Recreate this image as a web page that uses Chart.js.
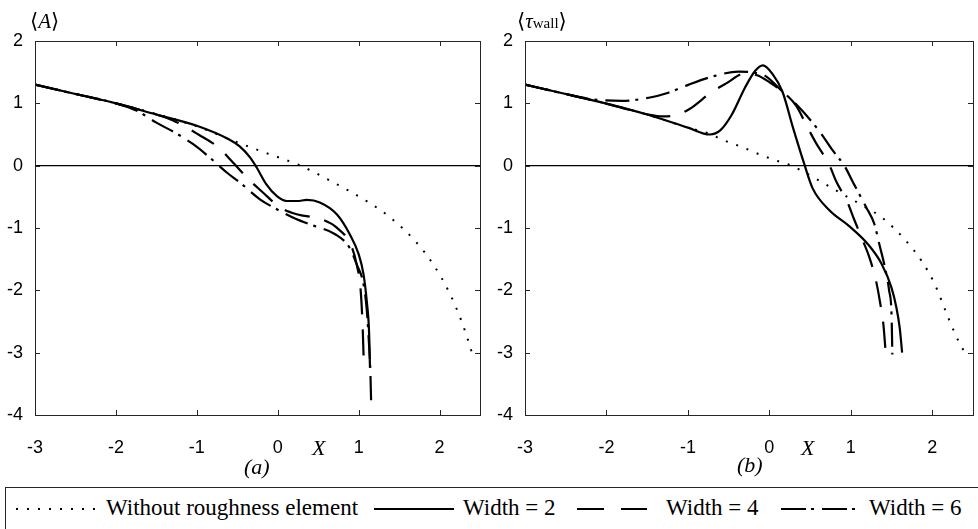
<!DOCTYPE html>
<html>
<head>
<meta charset="utf-8">
<script src="https://cdn.jsdelivr.net/npm/chart.js@4.4.1/dist/chart.umd.min.js"></script>
<style>
  body { margin: 0; background: #fff; width: 978px; height: 529px; overflow: hidden; position: relative; }
  .pane { position: absolute; top: 0; width: 489px; height: 480px; }
  .lab, #legend .t { font-family: "Liberation Serif", "Times New Roman", "DejaVu Serif", "Noto Serif", serif; }
  .lab { position: absolute; color: #000; white-space: nowrap; line-height: 1; }
  .it { font-style: italic; }
  #legend { position: absolute; left: 5px; top: 487px; width: 975px; height: 60px; border: 1px solid #262626; box-sizing: border-box; }
  #legend .t { position: absolute; top: 8px; font-size: 23px; white-space: nowrap; line-height: 1; }
  #legend svg { position: absolute; top: 0; left: 0; }
</style>
</head>
<body>
<div class="pane" style="left:0"><canvas id="chartA"></canvas></div>
<div class="pane" style="left:489px"><canvas id="chartB"></canvas></div>

<div class="lab" style="left:30px;top:11px;font-size:21px">⟨<span class="it">A</span>⟩</div>
<div class="lab" style="left:517px;top:11px;font-size:21px">⟨<span class="it">τ</span><span style="font-size:15px">wall</span>⟩</div>
<div class="lab it" style="left:312px;top:437px;font-size:22px">X</div>
<div class="lab it" style="left:801px;top:437px;font-size:22px">X</div>
<div class="lab it" style="left:244px;top:456px;font-size:22px">(a)</div>
<div class="lab it" style="left:737px;top:454px;font-size:22px">(b)</div>

<div id="legend">
  <svg width="975" height="40">
    <line x1="10" y1="21" x2="92" y2="21" stroke="#000" stroke-width="2" stroke-dasharray="2 9"/>
    <line x1="368" y1="21" x2="448" y2="21" stroke="#000" stroke-width="2.2"/>
    <line x1="571" y1="21" x2="641" y2="21" stroke="#000" stroke-width="2.2" stroke-dasharray="27 17"/>
    <line x1="775" y1="21" x2="852" y2="21" stroke="#000" stroke-width="2.2" stroke-dasharray="25 5 3 8"/>
  </svg>
  <span class="t" style="left:100px">Without roughness element</span>
  <span class="t" style="left:457px">Width = 2</span>
  <span class="t" style="left:660px">Width = 4</span>
  <span class="t" style="left:863px">Width = 6</span>
</div>

<script>
// tick values
const xTicks = [-3, -2, -1, 0, 1, 2];
const yTicks = [-4, -3, -2, -1, 0, 1, 2];

// zero reference line
const zeroX = [-3, 2.5];
const zeroY = [0, 0];

// (a) <A>
const aNoneX = [-3, -2.5, -2, -1.5, -1, -0.47, -0.2, 0.28, 0.69, 1.1, 1.39, 1.7, 1.92, 2.13, 2.27, 2.37, 2.4];
const aNoneY = [1.30, 1.15, 1.0, 0.83, 0.63, 0.36, 0.23, 0.0, -0.27, -0.57, -0.83, -1.21, -1.58, -2.06, -2.49, -2.87, -3.0];

const aW2X = [-3, -2.5, -2, -1.5, -1, -0.6, -0.47, -0.34, -0.26, -0.14, -0.01, 0.11, 0.24, 0.36, 0.52, 0.73, 0.89, 1.0, 1.06, 1.1, 1.13, 1.14];
const aW2Y = [1.30, 1.15, 1.0, 0.82, 0.64, 0.42, 0.31, 0.13, -0.03, -0.30, -0.49, -0.567, -0.567, -0.55, -0.59, -0.78, -1.10, -1.42, -1.74, -2.17, -2.7, -3.24];

const aW4X = [-3, -2.5, -2, -1.5, -1.3, -0.98, -0.73, -0.57, -0.36, -0.2, 0.03, 0.235, 0.54, 0.73, 0.91, 0.975, 1.025, 1.05, 1.066];
const aW4Y = [1.30, 1.15, 1.0, 0.82, 0.73, 0.50, 0.29, 0.075, -0.22, -0.41, -0.67, -0.78, -0.86, -0.995, -1.29, -1.58, -2.0, -2.6, -3.27];

const aW6X = [-3, -2.5, -2, -1.74, -1.5, -1.27, -1.04, -0.84, -0.63, -0.44, -0.22, -0.01, 0.235, 0.46, 0.71, 0.89, 0.975, 1.06, 1.1, 1.13, 1.145, 1.155];
const aW6Y = [1.30, 1.15, 1.0, 0.88, 0.69, 0.53, 0.34, 0.13, -0.11, -0.30, -0.54, -0.70, -0.86, -0.97, -1.10, -1.32, -1.58, -1.9, -2.3, -2.9, -3.3, -3.83];

// (b) <tau_wall>
const bNoneX = [-3, -2.5, -2, -1.5, -1, -0.73, -0.585, -0.34, -0.1, 0.11, 0.27, 0.40, 0.64, 0.89, 1.17, 1.38, 1.66, 1.87, 2.03, 2.2, 2.32, 2.4];
const bNoneY = [1.30, 1.15, 0.995, 0.82, 0.61, 0.51, 0.42, 0.30, 0.17, 0.07, 0.0, -0.085, -0.26, -0.45, -0.66, -0.83, -1.18, -1.53, -1.9, -2.45, -2.81, -3.0];

const bW2X = [-3, -2.5, -2, -1.5, -1, -0.73, -0.6, -0.46, -0.3, -0.176, -0.08, 0.04, 0.16, 0.29, 0.43, 0.53, 0.74, 0.98, 1.21, 1.38, 1.50, 1.56, 1.60, 1.63];
const bW2Y = [1.30, 1.15, 0.995, 0.82, 0.61, 0.50, 0.57, 0.82, 1.25, 1.52, 1.61, 1.47, 1.19, 0.61, 0.02, -0.36, -0.72, -0.97, -1.26, -1.58, -1.96, -2.28, -2.6, -3.0];

const bW4X = [-3, -2.5, -2, -1.7, -1.485, -1.3, -1.16, -0.98, -0.72, -0.53, -0.3, -0.15, 0.0, 0.16, 0.33, 0.47, 0.57, 0.74, 0.82, 0.96, 1.04, 1.15, 1.23, 1.31, 1.36, 1.40, 1.43];
const bW4Y = [1.30, 1.15, 0.995, 0.89, 0.82, 0.79, 0.81, 0.91, 1.17, 1.32, 1.48, 1.45, 1.34, 1.19, 0.96, 0.61, 0.37, 0.0, -0.25, -0.59, -0.86, -1.21, -1.48, -1.85, -2.2, -2.55, -3.03];

const bW6X = [-3, -2.5, -2.2, -1.81, -1.48, -1.24, -0.99, -0.67, -0.38, -0.18, -0.05, 0.16, 0.33, 0.61, 0.78, 0.92, 1.04, 1.19, 1.29, 1.35, 1.42, 1.47, 1.50, 1.51];
const bW6Y = [1.30, 1.15, 1.07, 1.04, 1.09, 1.17, 1.30, 1.44, 1.51, 1.49, 1.44, 1.19, 0.985, 0.56, 0.24, 0.0, -0.30, -0.67, -0.94, -1.26, -1.64, -2.0, -2.4, -3.03];

const pts = (xs, ys) => xs.map((x, i) => ({ x, y: ys[i] }));

const styles = {
  w2:   { borderDash: [], borderWidth: 2.2 },
  w4:   { borderDash: [26, 15], borderWidth: 2.2 },
  w6:   { borderDash: [24, 6, 3, 8], borderWidth: 2.2 },
  none: { borderDash: [2, 9], borderWidth: 2 },
  zero: { borderDash: [], borderWidth: 1.2, cubicInterpolationMode: 'default' }
};

function ds(name, data) {
  return Object.assign({
    data, showLine: true, pointRadius: 0, borderColor: '#000',
    fill: false, cubicInterpolationMode: 'monotone'
  }, styles[name]);
}

const frame = {
  id: 'frame',
  afterDatasetsDraw(chart) {
    const { ctx, chartArea: a, scales: { x, y } } = chart;
    ctx.save();
    ctx.strokeStyle = '#262626';
    ctx.lineWidth = 1;
    ctx.strokeRect(Math.round(a.left) + 0.5, Math.round(a.top) + 0.5, Math.round(a.width), Math.round(a.height));
    ctx.beginPath();
    x.ticks.forEach(t => {
      const p = Math.round(x.getPixelForValue(t.value)) + 0.5;
      ctx.moveTo(p, a.top); ctx.lineTo(p, a.top + 5);
      ctx.moveTo(p, a.bottom); ctx.lineTo(p, a.bottom - 5);
    });
    y.ticks.forEach(t => {
      const p = Math.round(y.getPixelForValue(t.value)) + 0.5;
      ctx.moveTo(a.left, p); ctx.lineTo(a.left + 5, p);
      ctx.moveTo(a.right, p); ctx.lineTo(a.right - 5, p);
    });
    ctx.stroke();
    ctx.restore();
  }
};

function makeChart(el, sets, yWidth, padRight) {
  return new Chart(el, {
    type: 'scatter',
    data: { datasets: sets },
    plugins: [frame],
    options: {
      responsive: true,
      maintainAspectRatio: false,
      animation: false,
      layout: { padding: { left: 0, right: padRight, top: 41, bottom: 0 } },
      plugins: { legend: { display: false }, tooltip: { enabled: false } },
      scales: {
        x: {
          type: 'linear', min: -3, max: 2.5,
          afterBuildTicks: s => { s.ticks = xTicks.map(v => ({ value: v })); },
          afterFit: s => { s.height = 65; },
          grid: { display: false, drawTicks: false },
          border: { display: false },
          ticks: { padding: 22, color: '#000', font: { family: 'Liberation Sans', size: 18 }, callback: v => String(v) }
        },
        y: {
          type: 'linear', min: -4, max: 2,
          afterBuildTicks: s => { s.ticks = yTicks.map(v => ({ value: v })); },
          afterFit: s => { s.width = yWidth; },
          grid: { display: false, drawTicks: false },
          border: { display: false },
          ticks: { padding: 12, color: '#000', font: { family: 'Liberation Sans', size: 18 }, callback: v => String(v) }
        }
      }
    }
  });
}

makeChart(document.getElementById('chartA'), [
  ds('w2', pts(aW2X, aW2Y)),
  ds('w4', pts(aW4X, aW4Y)),
  ds('w6', pts(aW6X, aW6Y)),
  ds('none', pts(aNoneX, aNoneY)),
  ds('zero', pts(zeroX, zeroY))
], 35, 9);

makeChart(document.getElementById('chartB'), [
  ds('w2', pts(bW2X, bW2Y)),
  ds('w4', pts(bW4X, bW4Y)),
  ds('w6', pts(bW6X, bW6Y)),
  ds('none', pts(bNoneX, bNoneY)),
  ds('zero', pts(zeroX, zeroY))
], 36, 5);
</script>
</body>
</html>
